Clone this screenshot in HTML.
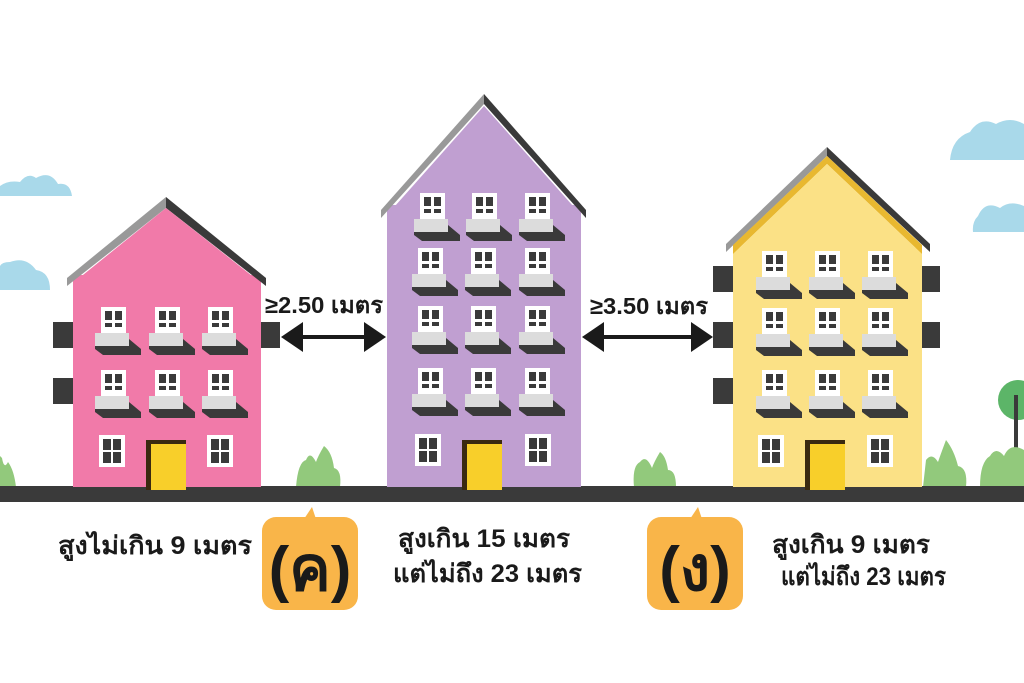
<!DOCTYPE html>
<html><head><meta charset="utf-8"><style>
html,body{margin:0;padding:0;background:#fff;width:1024px;height:683px;overflow:hidden}
svg text{font-family:"Liberation Sans","Noto Sans CJK SC",sans-serif;fill:#1a1a1a}
</style></head><body>
<svg width="1024" height="683" viewBox="0 0 1024 683" xmlns="http://www.w3.org/2000/svg">
<defs>
<g id="win">
<rect x="0" y="0" width="25" height="27" fill="#fff"/>
<rect x="4" y="4" width="7" height="9" fill="#3a3a3a"/><rect x="14" y="4" width="7" height="9" fill="#3a3a3a"/>
<rect x="4" y="16" width="7" height="4" fill="#3a3a3a"/><rect x="14" y="16" width="7" height="4" fill="#3a3a3a"/>
<polygon points="-6,32 28,32 40,42 40,48 2,48 -6,42" fill="#3a3a3a"/>
<rect x="-6" y="26" width="34" height="13" fill="#dcdcdc"/>
</g>
<g id="gwin">
<rect x="0" y="0" width="26" height="32" fill="#fff"/>
<rect x="4" y="4" width="8" height="11" fill="#3a3a3a"/><rect x="14" y="4" width="8" height="11" fill="#3a3a3a"/>
<rect x="4" y="17" width="8" height="11" fill="#3a3a3a"/><rect x="14" y="17" width="8" height="11" fill="#3a3a3a"/>
</g>
<g id="door">
<rect x="0" y="0" width="40" height="50" fill="#3a2a10"/>
<rect x="5" y="4" width="35" height="46" fill="#f8cf2a"/>
</g>
</defs>
<path d="M0,196 L72,196 Q70,182 58,184 Q50,170 36,178 Q28,172 20,182 Q8,180 0,186Z" fill="#a9d9ea"/>
<path d="M0,290 L50,290 Q50,272 36,270 Q26,256 10,262 Q2,262 0,266Z" fill="#a9d9ea"/>
<path d="M950,160 L1024,160 L1024,124 Q1010,116 996,124 Q980,116 970,132 Q952,138 950,160Z" fill="#a9d9ea"/>
<path d="M973,232 L1024,232 L1024,206 Q1010,200 1000,208 Q985,200 978,216 Q972,222 973,232Z" fill="#a9d9ea"/>
<path d="M0,487 L16,487 Q14,470 8,462 Q4,470 2,458 L0,456Z" fill="#92c97c"/>
<path d="M296,487 L340,487 Q342,470 334,468 Q332,452 324,446 Q318,456 316,462 Q310,450 306,460 Q298,462 296,487Z" fill="#92c97c"/>
<path d="M634,487 L676,487 Q676,470 668,470 Q666,456 660,452 Q654,462 652,468 Q646,454 640,462 Q632,466 634,487Z" fill="#92c97c"/>
<path d="M923,487 L966,487 Q968,468 958,466 Q954,450 946,440 Q940,456 938,462 Q932,452 926,460 Z" fill="#92c97c"/>
<circle cx="1018" cy="400" r="20" fill="#5cb568"/>
<rect x="1014" y="395" width="4" height="60" fill="#3a3a3a"/>
<path d="M980,487 L1024,487 L1024,450 Q1010,442 1004,456 Q996,446 990,456 Q980,462 980,487Z" fill="#92c97c"/>
<rect x="0" y="486" width="1024" height="16" fill="#3a3a3a"/>

<rect x="53" y="322" width="22" height="26" fill="#3a3a3a"/><rect x="53" y="378" width="22" height="26" fill="#3a3a3a"/>
<rect x="258" y="322" width="22" height="26" fill="#3a3a3a"/>
<rect x="73" y="275" width="188" height="212" fill="#f17aa9"/>
<polygon points="166,197 266,278 266,286 166,208" fill="#3a3a3a"/>
<polygon points="166,197 67,278 67,286 166,208" fill="#999"/>
<polygon points="166,208 73,283 261,283" fill="#f17aa9"/>
<use href="#win" x="101" y="307"/><use href="#win" x="155" y="307"/><use href="#win" x="208" y="307"/>
<use href="#win" x="101" y="370"/><use href="#win" x="155" y="370"/><use href="#win" x="208" y="370"/>
<use href="#gwin" x="99" y="435"/><use href="#gwin" x="207" y="435"/>
<use href="#door" x="146" y="440"/>

<rect x="387" y="205" width="194" height="282" fill="#c09fd1"/>
<polygon points="484,94 586,210 586,218 484,104" fill="#3a3a3a"/>
<polygon points="484,94 381,210 381,218 484,104" fill="#999"/>
<polygon points="484,106 387,215 581,215" fill="#c09fd1"/>
<use href="#win" x="420" y="193"/><use href="#win" x="472" y="193"/><use href="#win" x="525" y="193"/>
<use href="#win" x="418" y="248"/><use href="#win" x="471" y="248"/><use href="#win" x="525" y="248"/>
<use href="#win" x="418" y="306"/><use href="#win" x="471" y="306"/><use href="#win" x="525" y="306"/>
<use href="#win" x="418" y="368"/><use href="#win" x="471" y="368"/><use href="#win" x="525" y="368"/>
<use href="#gwin" x="415" y="434"/><use href="#gwin" x="525" y="434"/>
<use href="#door" x="462" y="440"/>

<rect x="713" y="266" width="22" height="26" fill="#3a3a3a"/><rect x="713" y="322" width="22" height="26" fill="#3a3a3a"/><rect x="713" y="378" width="22" height="26" fill="#3a3a3a"/>
<rect x="920" y="266" width="20" height="26" fill="#3a3a3a"/><rect x="920" y="322" width="20" height="26" fill="#3a3a3a"/>
<rect x="733" y="248" width="189" height="239" fill="#fbe186"/>
<polygon points="827,147 930,244 930,252 827,156" fill="#3a3a3a"/>
<polygon points="827,147 726,244 726,252 827,156" fill="#999"/>
<polygon points="827,156 733,245 733,254 827,164 922,254 922,245" fill="#e8b830"/>
<polygon points="827,164 733,254 922,254" fill="#fbe186"/>
<use href="#win" x="762" y="251"/><use href="#win" x="815" y="251"/><use href="#win" x="868" y="251"/>
<use href="#win" x="762" y="308"/><use href="#win" x="815" y="308"/><use href="#win" x="868" y="308"/>
<use href="#win" x="762" y="370"/><use href="#win" x="815" y="370"/><use href="#win" x="868" y="370"/>
<use href="#gwin" x="758" y="435"/><use href="#gwin" x="867" y="435"/>
<use href="#door" x="805" y="440"/>

<line x1="300" y1="337" x2="370" y2="337" stroke="#1a1a1a" stroke-width="4"/>
<polygon points="281,337 303,322 303,352" fill="#1a1a1a"/><polygon points="386,337 364,322 364,352" fill="#1a1a1a"/>
<line x1="600" y1="337" x2="695" y2="337" stroke="#1a1a1a" stroke-width="4"/>
<polygon points="582,337 604,322 604,352" fill="#1a1a1a"/><polygon points="713,337 691,322 691,352" fill="#1a1a1a"/>
<text x="265" y="313" font-size="23" font-weight="bold" textLength="118" lengthAdjust="spacingAndGlyphs">≥2.50 เมตร</text>
<text x="590" y="314" font-size="23" font-weight="bold" textLength="118" lengthAdjust="spacingAndGlyphs">≥3.50 เมตร</text>

<rect x="262" y="517" width="96" height="93" rx="14" fill="#f9b549"/>
<path d="M304,519 L312,507 L316,519Z" fill="#f9b549"/>
<text x="310" y="590" font-size="62" font-weight="bold" text-anchor="middle">(ค)</text>
<rect x="647" y="517" width="96" height="93" rx="14" fill="#f9b549"/>
<path d="M690,519 L698,507 L702,519Z" fill="#f9b549"/>
<text x="695" y="590" font-size="62" font-weight="bold" text-anchor="middle">(ง)</text>

<text x="58" y="554" font-size="25" font-weight="bold" textLength="194" lengthAdjust="spacingAndGlyphs">สูงไม่เกิน 9 เมตร</text>
<text x="398" y="547" font-size="25" font-weight="bold" textLength="172" lengthAdjust="spacingAndGlyphs">สูงเกิน 15 เมตร</text>
<text x="393" y="582" font-size="25" font-weight="bold" textLength="189" lengthAdjust="spacingAndGlyphs">แต่ไม่ถึง 23 เมตร</text>
<text x="772" y="553" font-size="25" font-weight="bold" textLength="158" lengthAdjust="spacingAndGlyphs">สูงเกิน 9 เมตร</text>
<text x="781" y="585" font-size="25" font-weight="bold" textLength="165" lengthAdjust="spacingAndGlyphs">แต่ไม่ถึง 23 เมตร</text>
</svg>
</body></html>
